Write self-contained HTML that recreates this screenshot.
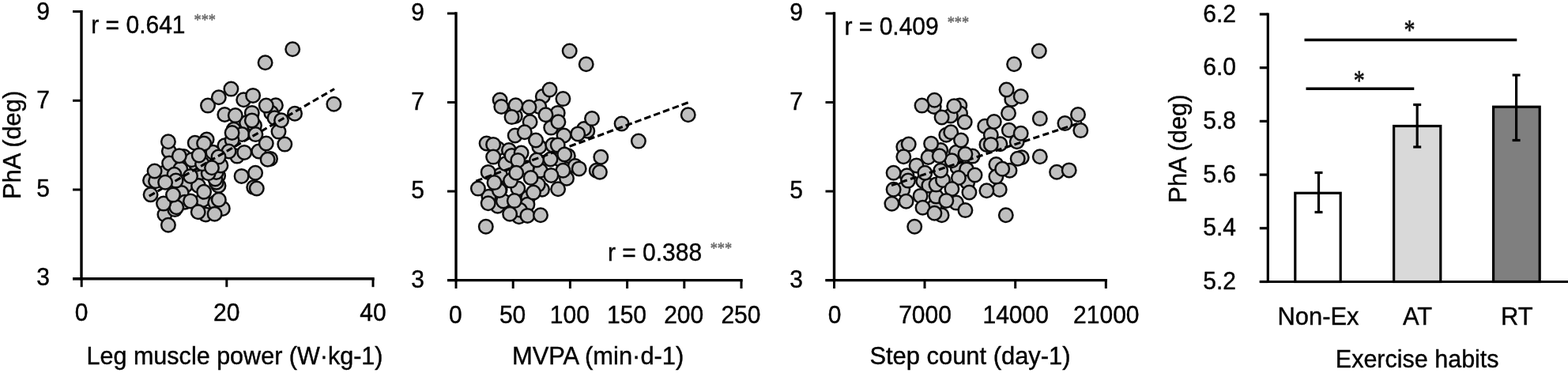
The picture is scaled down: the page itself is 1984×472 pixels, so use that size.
<!DOCTYPE html>
<html lang="en">
<head>
<meta charset="utf-8">
<title>PhA correlations and exercise habits</title>
<style>
html,body{margin:0;padding:0;background:#fff;}
body{width:1984px;height:472px;overflow:hidden;}
svg{display:block;font-family:"Liberation Sans", sans-serif;}
</style>
</head>
<body>
<svg width="1984" height="472" viewBox="0 0 1984 472">
<rect width="1984" height="472" fill="#fff"/>
<line x1="103" y1="12.9" x2="103" y2="354.4" stroke="#000" stroke-width="3.4" />
<line x1="92" y1="352.7" x2="473.7" y2="352.7" stroke="#000" stroke-width="3.4" />
<line x1="92" y1="14.6" x2="103" y2="14.6" stroke="#000" stroke-width="3.0" />
<text transform="translate(63,24.5) scale(1,1.04)" font-size="30" text-anchor="end" fill="#000" stroke="#000" stroke-width="0.4" >9</text>
<line x1="92" y1="127.3" x2="103" y2="127.3" stroke="#000" stroke-width="3.0" />
<text transform="translate(63,136.8) scale(1,1.04)" font-size="30" text-anchor="end" fill="#000" stroke="#000" stroke-width="0.4" >7</text>
<line x1="92" y1="240.0" x2="103" y2="240.0" stroke="#000" stroke-width="3.0" />
<text transform="translate(63,249.1) scale(1,1.04)" font-size="30" text-anchor="end" fill="#000" stroke="#000" stroke-width="0.4" >5</text>
<line x1="92" y1="352.7" x2="103" y2="352.7" stroke="#000" stroke-width="3.0" />
<text transform="translate(63,361.4) scale(1,1.04)" font-size="30" text-anchor="end" fill="#000" stroke="#000" stroke-width="0.4" >3</text>
<line x1="103.2" y1="352.7" x2="103.2" y2="363.2" stroke="#000" stroke-width="3.0" />
<text transform="translate(103.2,406.4) scale(1,1.04)" font-size="30" text-anchor="middle" fill="#000" stroke="#000" stroke-width="0.4" >0</text>
<line x1="286.8" y1="352.7" x2="286.8" y2="363.2" stroke="#000" stroke-width="3.0" />
<text transform="translate(286.8,406.4) scale(1,1.04)" font-size="30" text-anchor="middle" fill="#000" stroke="#000" stroke-width="0.4" >20</text>
<line x1="472" y1="352.7" x2="472" y2="363.2" stroke="#000" stroke-width="3.0" />
<text transform="translate(472,406.4) scale(1,1.04)" font-size="30" text-anchor="middle" fill="#000" stroke="#000" stroke-width="0.4" >40</text>
<text transform="translate(297,461.3) scale(1,1.01)" font-size="30.55" text-anchor="middle" fill="#000" stroke="#000" stroke-width="0.4" >Leg muscle power (W·kg-1)</text>
<g fill="#bfbfbf" stroke="#0d0d0d" stroke-width="2.5">
<circle cx="252.5" cy="218.8" r="8.75"/>
<circle cx="234.7" cy="234.7" r="8.75"/>
<circle cx="208.0" cy="218.8" r="8.75"/>
<circle cx="276.1" cy="222.6" r="8.75"/>
<circle cx="276.5" cy="235.0" r="8.75"/>
<circle cx="273.7" cy="230.7" r="8.75"/>
<circle cx="272.3" cy="226.5" r="8.75"/>
<circle cx="263.0" cy="133.6" r="8.75"/>
<circle cx="308.2" cy="126.2" r="8.75"/>
<circle cx="348.9" cy="133.3" r="8.75"/>
<circle cx="284.3" cy="145.0" r="8.75"/>
<circle cx="318.8" cy="142.9" r="8.75"/>
<circle cx="343.2" cy="142.8" r="8.75"/>
<circle cx="312.0" cy="155.3" r="8.75"/>
<circle cx="213.8" cy="191.3" r="8.75"/>
<circle cx="232.5" cy="198.1" r="8.75"/>
<circle cx="246.7" cy="180.8" r="8.75"/>
<circle cx="261.6" cy="176.5" r="8.75"/>
<circle cx="284.3" cy="184.3" r="8.75"/>
<circle cx="269.4" cy="192.8" r="8.75"/>
<circle cx="300.0" cy="197.6" r="8.75"/>
<circle cx="327.3" cy="191.5" r="8.75"/>
<circle cx="342.0" cy="200.9" r="8.75"/>
<circle cx="352.5" cy="166.6" r="8.75"/>
<circle cx="295.7" cy="163.7" r="8.75"/>
<circle cx="322.0" cy="158.8" r="8.75"/>
<circle cx="306.3" cy="170.1" r="8.75"/>
<circle cx="293.6" cy="177.3" r="8.75"/>
<circle cx="190.0" cy="228.2" r="8.75"/>
<circle cx="197.0" cy="229.3" r="8.75"/>
<circle cx="214.1" cy="206.6" r="8.75"/>
<circle cx="228.3" cy="213.7" r="8.75"/>
<circle cx="220.5" cy="220.8" r="8.75"/>
<circle cx="248.1" cy="208.0" r="8.75"/>
<circle cx="273.7" cy="217.9" r="8.75"/>
<circle cx="279.4" cy="209.4" r="8.75"/>
<circle cx="263.7" cy="219.3" r="8.75"/>
<circle cx="251.0" cy="235.0" r="8.75"/>
<circle cx="242.5" cy="202.3" r="8.75"/>
<circle cx="321.2" cy="237.1" r="8.75"/>
<circle cx="229.7" cy="244.0" r="8.75"/>
<circle cx="208.4" cy="271.5" r="8.75"/>
<circle cx="221.2" cy="265.1" r="8.75"/>
<circle cx="233.9" cy="255.8" r="8.75"/>
<circle cx="256.6" cy="253.0" r="8.75"/>
<circle cx="272.3" cy="256.6" r="8.75"/>
<circle cx="281.8" cy="263.9" r="8.75"/>
<circle cx="260.2" cy="271.5" r="8.75"/>
<circle cx="347.5" cy="149.3" r="8.75"/>
<circle cx="276.8" cy="123.3" r="8.75"/>
<circle cx="373.0" cy="143.8" r="8.75"/>
<circle cx="422.4" cy="131.8" r="8.75"/>
<circle cx="356.0" cy="152.3" r="8.75"/>
<circle cx="289.6" cy="191.5" r="8.75"/>
<circle cx="276.5" cy="198.6" r="8.75"/>
<circle cx="323.4" cy="170.1" r="8.75"/>
<circle cx="222.6" cy="228.6" r="8.75"/>
<circle cx="241.0" cy="222.9" r="8.75"/>
<circle cx="256.0" cy="207.3" r="8.75"/>
<circle cx="190.6" cy="246.3" r="8.75"/>
<circle cx="223.3" cy="262.2" r="8.75"/>
<circle cx="207.0" cy="257.6" r="8.75"/>
</g>
<line x1="188.7" y1="248.2" x2="423.1" y2="112.5" stroke="#000" stroke-width="3.1" stroke-dasharray="8.2 4.4"/>
<g fill="#bfbfbf" stroke="#0d0d0d" stroke-width="2.5">
<circle cx="370.2" cy="62.3" r="8.75"/>
<circle cx="335.6" cy="79.2" r="8.75"/>
<circle cx="292.4" cy="112.6" r="8.75"/>
<circle cx="320.1" cy="120.9" r="8.75"/>
<circle cx="336.8" cy="133.6" r="8.75"/>
<circle cx="297.8" cy="146.1" r="8.75"/>
<circle cx="318.8" cy="152.4" r="8.75"/>
<circle cx="212.9" cy="179.3" r="8.75"/>
<circle cx="226.8" cy="197.3" r="8.75"/>
<circle cx="258.1" cy="181.5" r="8.75"/>
<circle cx="251.7" cy="196.5" r="8.75"/>
<circle cx="309.2" cy="192.9" r="8.75"/>
<circle cx="336.8" cy="181.5" r="8.75"/>
<circle cx="338.6" cy="201.8" r="8.75"/>
<circle cx="360.3" cy="182.6" r="8.75"/>
<circle cx="293.6" cy="168.0" r="8.75"/>
<circle cx="195.6" cy="216.5" r="8.75"/>
<circle cx="209.1" cy="230.7" r="8.75"/>
<circle cx="268.0" cy="212.3" r="8.75"/>
<circle cx="258.1" cy="242.8" r="8.75"/>
<circle cx="305.6" cy="222.9" r="8.75"/>
<circle cx="323.1" cy="218.7" r="8.75"/>
<circle cx="324.8" cy="238.5" r="8.75"/>
<circle cx="219.0" cy="246.6" r="8.75"/>
<circle cx="212.9" cy="284.7" r="8.75"/>
<circle cx="241.0" cy="254.4" r="8.75"/>
<circle cx="276.8" cy="252.7" r="8.75"/>
<circle cx="271.6" cy="270.8" r="8.75"/>
<circle cx="250.7" cy="268.3" r="8.75"/>
</g>
<text transform="translate(115.3,41.8) scale(1,1.04)" font-size="30" text-anchor="start" fill="#000" stroke="#000" stroke-width="0.4" >r = 0.641</text>
<text transform="translate(245.5,32.35) scale(1,1.2)" font-size="18.3" text-anchor="start" fill="#6f6f6f" stroke="#6f6f6f" stroke-width="0.5" font-family='"Liberation Serif", serif' >***</text>
<line x1="577" y1="15.3" x2="577" y2="356.3" stroke="#000" stroke-width="3.4" />
<line x1="566" y1="354.6" x2="939.7" y2="354.6" stroke="#000" stroke-width="3.4" />
<line x1="566" y1="17.0" x2="577" y2="17.0" stroke="#000" stroke-width="3.0" />
<text transform="translate(537,26.0) scale(1,1.04)" font-size="30" text-anchor="end" fill="#000" stroke="#000" stroke-width="0.4" >9</text>
<line x1="566" y1="129.53" x2="577" y2="129.53" stroke="#000" stroke-width="3.0" />
<text transform="translate(537,138.53) scale(1,1.04)" font-size="30" text-anchor="end" fill="#000" stroke="#000" stroke-width="0.4" >7</text>
<line x1="566" y1="242.07" x2="577" y2="242.07" stroke="#000" stroke-width="3.0" />
<text transform="translate(537,251.07) scale(1,1.04)" font-size="30" text-anchor="end" fill="#000" stroke="#000" stroke-width="0.4" >5</text>
<line x1="566" y1="354.6" x2="577" y2="354.6" stroke="#000" stroke-width="3.0" />
<text transform="translate(537,363.6) scale(1,1.04)" font-size="30" text-anchor="end" fill="#000" stroke="#000" stroke-width="0.4" >3</text>
<line x1="577" y1="354.6" x2="577" y2="365.1" stroke="#000" stroke-width="3.0" />
<text transform="translate(576.4,408.5) scale(1,1.04)" font-size="30" text-anchor="middle" fill="#000" stroke="#000" stroke-width="0.4" >0</text>
<line x1="649.2" y1="354.6" x2="649.2" y2="365.1" stroke="#000" stroke-width="3.0" />
<text transform="translate(648.6,408.5) scale(1,1.04)" font-size="30" text-anchor="middle" fill="#000" stroke="#000" stroke-width="0.4" >50</text>
<line x1="721.4" y1="354.6" x2="721.4" y2="365.1" stroke="#000" stroke-width="3.0" />
<text transform="translate(720.8,408.5) scale(1,1.04)" font-size="30" text-anchor="middle" fill="#000" stroke="#000" stroke-width="0.4" >100</text>
<line x1="793.6" y1="354.6" x2="793.6" y2="365.1" stroke="#000" stroke-width="3.0" />
<text transform="translate(793.0,408.5) scale(1,1.04)" font-size="30" text-anchor="middle" fill="#000" stroke="#000" stroke-width="0.4" >150</text>
<line x1="865.8" y1="354.6" x2="865.8" y2="365.1" stroke="#000" stroke-width="3.0" />
<text transform="translate(865.2,408.5) scale(1,1.04)" font-size="30" text-anchor="middle" fill="#000" stroke="#000" stroke-width="0.4" >200</text>
<line x1="938" y1="354.6" x2="938" y2="365.1" stroke="#000" stroke-width="3.0" />
<text transform="translate(937.4,408.5) scale(1,1.04)" font-size="30" text-anchor="middle" fill="#000" stroke="#000" stroke-width="0.4" >250</text>
<text transform="translate(756.6,461.3) scale(1,1.01)" font-size="30.9" text-anchor="middle" fill="#000" stroke="#000" stroke-width="0.4" >MVPA (min·d-1)</text>
<g fill="#bfbfbf" stroke="#0d0d0d" stroke-width="2.5">
<circle cx="633.1" cy="221.4" r="8.75"/>
<circle cx="686.8" cy="122.0" r="8.75"/>
<circle cx="632.6" cy="126.5" r="8.75"/>
<circle cx="682.3" cy="135.0" r="8.75"/>
<circle cx="705.7" cy="142.9" r="8.75"/>
<circle cx="651.8" cy="146.9" r="8.75"/>
<circle cx="697.2" cy="161.6" r="8.75"/>
<circle cx="743.3" cy="165.8" r="8.75"/>
<circle cx="739.0" cy="163.0" r="8.75"/>
<circle cx="651.7" cy="171.5" r="8.75"/>
<circle cx="682.3" cy="185.7" r="8.75"/>
<circle cx="699.3" cy="183.6" r="8.75"/>
<circle cx="615.6" cy="181.5" r="8.75"/>
<circle cx="629.7" cy="187.9" r="8.75"/>
<circle cx="643.9" cy="190.0" r="8.75"/>
<circle cx="718.8" cy="197.3" r="8.75"/>
<circle cx="707.8" cy="201.5" r="8.75"/>
<circle cx="696.5" cy="201.5" r="8.75"/>
<circle cx="754.7" cy="215.8" r="8.75"/>
<circle cx="727.7" cy="210.1" r="8.75"/>
<circle cx="717.0" cy="225.8" r="8.75"/>
<circle cx="683.7" cy="215.8" r="8.75"/>
<circle cx="639.7" cy="207.3" r="8.75"/>
<circle cx="632.6" cy="239.9" r="8.75"/>
<circle cx="655.3" cy="238.5" r="8.75"/>
<circle cx="686.0" cy="239.7" r="8.75"/>
<circle cx="680.8" cy="233.6" r="8.75"/>
<circle cx="666.6" cy="212.3" r="8.75"/>
<circle cx="629.7" cy="260.8" r="8.75"/>
<circle cx="618.4" cy="248.8" r="8.75"/>
<circle cx="636.8" cy="254.4" r="8.75"/>
<circle cx="656.7" cy="257.3" r="8.75"/>
<circle cx="668.1" cy="250.2" r="8.75"/>
<circle cx="667.4" cy="258.7" r="8.75"/>
<circle cx="656.7" cy="274.3" r="8.75"/>
<circle cx="658.0" cy="265.8" r="8.75"/>
<circle cx="647.5" cy="196.9" r="8.75"/>
<circle cx="670.6" cy="154.3" r="8.75"/>
<circle cx="786.6" cy="156.5" r="8.75"/>
<circle cx="870.7" cy="145.3" r="8.75"/>
<circle cx="713.5" cy="171.5" r="8.75"/>
<circle cx="659.6" cy="193.6" r="8.75"/>
<circle cx="679.0" cy="202.5" r="8.75"/>
<circle cx="617.7" cy="217.9" r="8.75"/>
<circle cx="604.9" cy="238.6" r="8.75"/>
<circle cx="646.1" cy="228.6" r="8.75"/>
<circle cx="631.9" cy="240.9" r="8.75"/>
<circle cx="667.4" cy="272.9" r="8.75"/>
</g>
<line x1="602.2" y1="229.1" x2="871.4" y2="129.5" stroke="#000" stroke-width="3.1" stroke-dasharray="8.6 4.02"/>
<g fill="#bfbfbf" stroke="#0d0d0d" stroke-width="2.5">
<circle cx="720.7" cy="64.5" r="8.75"/>
<circle cx="741.7" cy="81.2" r="8.75"/>
<circle cx="695.5" cy="113.5" r="8.75"/>
<circle cx="712.4" cy="125.1" r="8.75"/>
<circle cx="634.3" cy="135.0" r="8.75"/>
<circle cx="652.5" cy="133.3" r="8.75"/>
<circle cx="669.5" cy="135.8" r="8.75"/>
<circle cx="690.5" cy="145.2" r="8.75"/>
<circle cx="706.4" cy="154.3" r="8.75"/>
<circle cx="647.5" cy="148.1" r="8.75"/>
<circle cx="749.0" cy="150.1" r="8.75"/>
<circle cx="731.2" cy="169.4" r="8.75"/>
<circle cx="663.8" cy="167.3" r="8.75"/>
<circle cx="678.0" cy="177.5" r="8.75"/>
<circle cx="705.7" cy="183.6" r="8.75"/>
<circle cx="624.1" cy="182.9" r="8.75"/>
<circle cx="624.1" cy="198.6" r="8.75"/>
<circle cx="655.3" cy="202.9" r="8.75"/>
<circle cx="714.2" cy="195.5" r="8.75"/>
<circle cx="760.3" cy="198.7" r="8.75"/>
<circle cx="807.9" cy="178.6" r="8.75"/>
<circle cx="758.9" cy="217.7" r="8.75"/>
<circle cx="732.7" cy="213.4" r="8.75"/>
<circle cx="712.4" cy="215.8" r="8.75"/>
<circle cx="697.4" cy="221.9" r="8.75"/>
<circle cx="671.6" cy="225.0" r="8.75"/>
<circle cx="653.2" cy="218.7" r="8.75"/>
<circle cx="625.5" cy="231.1" r="8.75"/>
<circle cx="675.0" cy="243.6" r="8.75"/>
<circle cx="706.1" cy="239.2" r="8.75"/>
<circle cx="614.8" cy="286.8" r="8.75"/>
<circle cx="617.7" cy="257.3" r="8.75"/>
<circle cx="650.8" cy="254.1" r="8.75"/>
<circle cx="684.0" cy="272.2" r="8.75"/>
<circle cx="645.1" cy="270.8" r="8.75"/>
</g>
<text transform="translate(768.9,330) scale(1,1.04)" font-size="30" text-anchor="start" fill="#000" stroke="#000" stroke-width="0.4" >r = 0.388</text>
<text transform="translate(898.7,320.55) scale(1,1.2)" font-size="18.3" text-anchor="start" fill="#6f6f6f" stroke="#6f6f6f" stroke-width="0.5" font-family='"Liberation Serif", serif' >***</text>
<line x1="1055.5" y1="15.3" x2="1055.5" y2="356.3" stroke="#000" stroke-width="3.4" />
<line x1="1044.5" y1="354.6" x2="1401.0" y2="354.6" stroke="#000" stroke-width="3.4" />
<line x1="1044.5" y1="17.0" x2="1055.5" y2="17.0" stroke="#000" stroke-width="3.0" />
<text transform="translate(1016,26.0) scale(1,1.04)" font-size="30" text-anchor="end" fill="#000" stroke="#000" stroke-width="0.4" >9</text>
<line x1="1044.5" y1="129.53" x2="1055.5" y2="129.53" stroke="#000" stroke-width="3.0" />
<text transform="translate(1016,138.53) scale(1,1.04)" font-size="30" text-anchor="end" fill="#000" stroke="#000" stroke-width="0.4" >7</text>
<line x1="1044.5" y1="242.07" x2="1055.5" y2="242.07" stroke="#000" stroke-width="3.0" />
<text transform="translate(1016,251.07) scale(1,1.04)" font-size="30" text-anchor="end" fill="#000" stroke="#000" stroke-width="0.4" >5</text>
<line x1="1044.5" y1="354.6" x2="1055.5" y2="354.6" stroke="#000" stroke-width="3.0" />
<text transform="translate(1016,363.6) scale(1,1.04)" font-size="30" text-anchor="end" fill="#000" stroke="#000" stroke-width="0.4" >3</text>
<line x1="1055.5" y1="354.6" x2="1055.5" y2="365.1" stroke="#000" stroke-width="3.0" />
<text transform="translate(1056.0,408.5) scale(1,1.04)" font-size="30" text-anchor="middle" fill="#000" stroke="#000" stroke-width="0.4" >0</text>
<line x1="1170" y1="354.6" x2="1170" y2="365.1" stroke="#000" stroke-width="3.0" />
<text transform="translate(1170.5,408.5) scale(1,1.04)" font-size="30" text-anchor="middle" fill="#000" stroke="#000" stroke-width="0.4" >7000</text>
<line x1="1284.7" y1="354.6" x2="1284.7" y2="365.1" stroke="#000" stroke-width="3.0" />
<text transform="translate(1285.2,408.5) scale(1,1.04)" font-size="30" text-anchor="middle" fill="#000" stroke="#000" stroke-width="0.4" >14000</text>
<line x1="1399.3" y1="354.6" x2="1399.3" y2="365.1" stroke="#000" stroke-width="3.0" />
<text transform="translate(1399.8,408.5) scale(1,1.04)" font-size="30" text-anchor="middle" fill="#000" stroke="#000" stroke-width="0.4" >21000</text>
<text transform="translate(1227.5,461.3) scale(1,1.01)" font-size="30.9" text-anchor="middle" fill="#000" stroke="#000" stroke-width="0.4" >Step count (day-1)</text>
<g fill="#bfbfbf" stroke="#0d0d0d" stroke-width="2.5">
<circle cx="1211.5" cy="211.8" r="8.75"/>
<circle cx="1223.0" cy="214.4" r="8.75"/>
<circle cx="1182.9" cy="260.3" r="8.75"/>
<circle cx="1280.3" cy="125.8" r="8.75"/>
<circle cx="1181.7" cy="135.0" r="8.75"/>
<circle cx="1214.3" cy="133.6" r="8.75"/>
<circle cx="1215.0" cy="143.6" r="8.75"/>
<circle cx="1202.9" cy="146.4" r="8.75"/>
<circle cx="1246.2" cy="159.7" r="8.75"/>
<circle cx="1276.8" cy="164.7" r="8.75"/>
<circle cx="1265.4" cy="182.2" r="8.75"/>
<circle cx="1248.4" cy="182.9" r="8.75"/>
<circle cx="1197.3" cy="170.8" r="8.75"/>
<circle cx="1143.3" cy="185.7" r="8.75"/>
<circle cx="1190.2" cy="190.0" r="8.75"/>
<circle cx="1178.8" cy="194.2" r="8.75"/>
<circle cx="1174.6" cy="199.0" r="8.75"/>
<circle cx="1210.0" cy="192.8" r="8.75"/>
<circle cx="1292.8" cy="199.3" r="8.75"/>
<circle cx="1337.1" cy="217.7" r="8.75"/>
<circle cx="1260.4" cy="208.0" r="8.75"/>
<circle cx="1277.5" cy="215.8" r="8.75"/>
<circle cx="1264.7" cy="239.9" r="8.75"/>
<circle cx="1159.6" cy="209.4" r="8.75"/>
<circle cx="1147.6" cy="222.2" r="8.75"/>
<circle cx="1168.2" cy="229.3" r="8.75"/>
<circle cx="1175.3" cy="234.8" r="8.75"/>
<circle cx="1142.3" cy="239.8" r="8.75"/>
<circle cx="1184.5" cy="248.6" r="8.75"/>
<circle cx="1224.2" cy="230.7" r="8.75"/>
<circle cx="1184.5" cy="233.6" r="8.75"/>
<circle cx="1193.0" cy="227.9" r="8.75"/>
<circle cx="1191.6" cy="272.2" r="8.75"/>
<circle cx="1210.0" cy="256.6" r="8.75"/>
<circle cx="1347.4" cy="156.1" r="8.75"/>
<circle cx="1286.7" cy="179.3" r="8.75"/>
<circle cx="1253.8" cy="170.8" r="8.75"/>
<circle cx="1230.6" cy="197.6" r="8.75"/>
<circle cx="1204.4" cy="203.3" r="8.75"/>
<circle cx="1260.4" cy="223.6" r="8.75"/>
<circle cx="1170.3" cy="218.7" r="8.75"/>
<circle cx="1190.2" cy="215.8" r="8.75"/>
<circle cx="1149.0" cy="228.6" r="8.75"/>
<circle cx="1130.6" cy="239.7" r="8.75"/>
<circle cx="1221.4" cy="266.1" r="8.75"/>
</g>
<line x1="1128" y1="234.5" x2="1369" y2="154.6" stroke="#000" stroke-width="3.1" stroke-dasharray="8.2 4.4"/>
<g fill="#bfbfbf" stroke="#0d0d0d" stroke-width="2.5">
<circle cx="1314.8" cy="64.5" r="8.75"/>
<circle cx="1283.1" cy="81.2" r="8.75"/>
<circle cx="1273.6" cy="113.5" r="8.75"/>
<circle cx="1291.7" cy="122.0" r="8.75"/>
<circle cx="1182.4" cy="126.8" r="8.75"/>
<circle cx="1166.5" cy="133.6" r="8.75"/>
<circle cx="1207.2" cy="134.3" r="8.75"/>
<circle cx="1191.6" cy="148.5" r="8.75"/>
<circle cx="1220.7" cy="154.5" r="8.75"/>
<circle cx="1276.0" cy="143.2" r="8.75"/>
<circle cx="1257.8" cy="154.0" r="8.75"/>
<circle cx="1315.8" cy="150.1" r="8.75"/>
<circle cx="1364.0" cy="145.0" r="8.75"/>
<circle cx="1367.3" cy="165.1" r="8.75"/>
<circle cx="1291.7" cy="168.7" r="8.75"/>
<circle cx="1253.8" cy="182.9" r="8.75"/>
<circle cx="1203.2" cy="167.3" r="8.75"/>
<circle cx="1216.0" cy="177.5" r="8.75"/>
<circle cx="1178.1" cy="181.7" r="8.75"/>
<circle cx="1149.7" cy="182.6" r="8.75"/>
<circle cx="1143.3" cy="198.3" r="8.75"/>
<circle cx="1188.7" cy="197.3" r="8.75"/>
<circle cx="1221.4" cy="195.1" r="8.75"/>
<circle cx="1315.8" cy="198.3" r="8.75"/>
<circle cx="1287.7" cy="200.7" r="8.75"/>
<circle cx="1352.7" cy="215.4" r="8.75"/>
<circle cx="1268.2" cy="213.7" r="8.75"/>
<circle cx="1248.4" cy="241.3" r="8.75"/>
<circle cx="1233.5" cy="221.5" r="8.75"/>
<circle cx="1212.9" cy="225.0" r="8.75"/>
<circle cx="1226.4" cy="243.5" r="8.75"/>
<circle cx="1204.4" cy="239.0" r="8.75"/>
<circle cx="1130.6" cy="218.7" r="8.75"/>
<circle cx="1164.6" cy="247.9" r="8.75"/>
<circle cx="1197.3" cy="253.9" r="8.75"/>
<circle cx="1128.4" cy="257.7" r="8.75"/>
<circle cx="1146.6" cy="254.7" r="8.75"/>
<circle cx="1167.5" cy="262.7" r="8.75"/>
<circle cx="1182.4" cy="269.8" r="8.75"/>
<circle cx="1157.2" cy="286.8" r="8.75"/>
<circle cx="1272.8" cy="272.2" r="8.75"/>
</g>
<text transform="translate(1068.5,43.6) scale(1,1.04)" font-size="30" text-anchor="start" fill="#000" stroke="#000" stroke-width="0.4" >r = 0.409</text>
<text transform="translate(1198.7,34.9) scale(1,1.2)" font-size="18.3" text-anchor="start" fill="#6f6f6f" stroke="#6f6f6f" stroke-width="0.5" font-family='"Liberation Serif", serif' >***</text>
<text transform="translate(25.6,183.4) rotate(-90) scale(1,1.01)" font-size="30.85" text-anchor="middle" fill="#000" stroke="#000" stroke-width="0.4" >PhA (deg)</text>
<rect x="1638.8" y="244.3" width="57.40000000000009" height="112.19999999999999" fill="#ffffff" stroke="#000" stroke-width="3.2"/>
<line x1="1668.5" y1="218.5" x2="1668.5" y2="268.5" stroke="#000" stroke-width="3.2" />
<line x1="1663.5" y1="218.5" x2="1673.5" y2="218.5" stroke="#000" stroke-width="3.2" />
<line x1="1663.5" y1="268.5" x2="1673.5" y2="268.5" stroke="#000" stroke-width="3.2" />
<rect x="1763.6" y="159.5" width="59.200000000000045" height="197.0" fill="#d9d9d9" stroke="#000" stroke-width="3.2"/>
<line x1="1793.2" y1="132.5" x2="1793.2" y2="186" stroke="#000" stroke-width="3.2" />
<line x1="1788.2" y1="132.5" x2="1798.2" y2="132.5" stroke="#000" stroke-width="3.2" />
<line x1="1788.2" y1="186" x2="1798.2" y2="186" stroke="#000" stroke-width="3.2" />
<rect x="1889.6" y="135.2" width="58.600000000000136" height="221.3" fill="#7f7f7f" stroke="#000" stroke-width="3.2"/>
<line x1="1918.6" y1="95" x2="1918.6" y2="177.5" stroke="#000" stroke-width="3.2" />
<line x1="1913.6" y1="95" x2="1923.6" y2="95" stroke="#000" stroke-width="3.2" />
<line x1="1913.6" y1="177.5" x2="1923.6" y2="177.5" stroke="#000" stroke-width="3.2" />
<line x1="1604.3" y1="16.4" x2="1604.3" y2="358.1" stroke="#000" stroke-width="3.2" />
<line x1="1593.8" y1="356.5" x2="1984" y2="356.5" stroke="#000" stroke-width="3.2" />
<line x1="1593.8" y1="18.0" x2="1604.3" y2="18.0" stroke="#000" stroke-width="3.2" />
<text transform="translate(1564,27.5) scale(1,1.04)" font-size="30" text-anchor="end" fill="#000" stroke="#000" stroke-width="0.4" >6.2</text>
<line x1="1593.8" y1="85.7" x2="1604.3" y2="85.7" stroke="#000" stroke-width="3.2" />
<text transform="translate(1564,95.2) scale(1,1.04)" font-size="30" text-anchor="end" fill="#000" stroke="#000" stroke-width="0.4" >6.0</text>
<line x1="1593.8" y1="153.4" x2="1604.3" y2="153.4" stroke="#000" stroke-width="3.2" />
<text transform="translate(1564,162.9) scale(1,1.04)" font-size="30" text-anchor="end" fill="#000" stroke="#000" stroke-width="0.4" >5.8</text>
<line x1="1593.8" y1="221.1" x2="1604.3" y2="221.1" stroke="#000" stroke-width="3.2" />
<text transform="translate(1564,230.6) scale(1,1.04)" font-size="30" text-anchor="end" fill="#000" stroke="#000" stroke-width="0.4" >5.6</text>
<line x1="1593.8" y1="288.8" x2="1604.3" y2="288.8" stroke="#000" stroke-width="3.2" />
<text transform="translate(1564,298.3) scale(1,1.04)" font-size="30" text-anchor="end" fill="#000" stroke="#000" stroke-width="0.4" >5.4</text>
<line x1="1593.8" y1="356.5" x2="1604.3" y2="356.5" stroke="#000" stroke-width="3.2" />
<text transform="translate(1564,366.0) scale(1,1.04)" font-size="30" text-anchor="end" fill="#000" stroke="#000" stroke-width="0.4" >5.2</text>
<line x1="1650.5" y1="50.5" x2="1919.3" y2="50.5" stroke="#000" stroke-width="3.6" />
<line x1="1652.5" y1="112.2" x2="1789.3" y2="112.2" stroke="#000" stroke-width="3.6" />
<text transform="translate(1783.6,50) scale(1,1.28)" font-size="28" text-anchor="middle" fill="#111" stroke="#111" stroke-width="0.5" font-family='"Liberation Serif", serif' >*</text>
<text transform="translate(1719.8,113.6) scale(1,1.28)" font-size="28" text-anchor="middle" fill="#111" stroke="#111" stroke-width="0.5" font-family='"Liberation Serif", serif' >*</text>
<text transform="translate(1668,410.6) scale(1,1.02)" font-size="30.9" text-anchor="middle" fill="#000" stroke="#000" stroke-width="0.4" >Non-Ex</text>
<text transform="translate(1793.5,410.6) scale(1,1.02)" font-size="30.9" text-anchor="middle" fill="#000" stroke="#000" stroke-width="0.4" >AT</text>
<text transform="translate(1919.3,410.6) scale(1,1.02)" font-size="30.9" text-anchor="middle" fill="#000" stroke="#000" stroke-width="0.4" >RT</text>
<text transform="translate(1793.2,464.5) scale(1,1.02)" font-size="30.5" text-anchor="middle" fill="#000" stroke="#000" stroke-width="0.4" >Exercise habits</text>
<text transform="translate(1500.9,188.1) rotate(-90) scale(1,1.01)" font-size="30.85" text-anchor="middle" fill="#000" stroke="#000" stroke-width="0.4" >PhA (deg)</text>
</svg>
</body>
</html>
